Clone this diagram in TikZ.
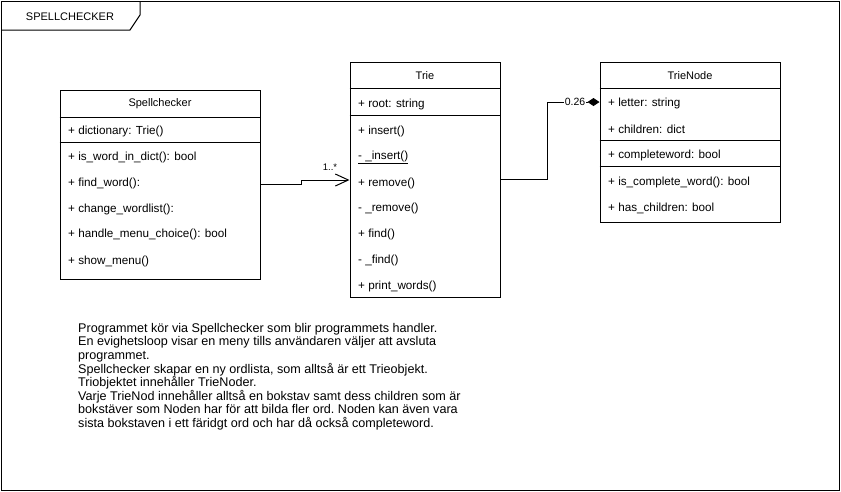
\documentclass[tikz,border=0pt]{standalone}
\usepackage{fontspec}
\setmainfont{Liberation Sans}
\usetikzlibrary{arrows.meta,positioning,calc}

\begin{document}
\begin{tikzpicture}[x=1pt,y=-1pt,
 umlbox/.style={draw,line width=1pt,inner sep=0pt,fill=white},
 head/.style={font=\fontsize{11}{12}\selectfont,inner sep=0pt},
 row/.style={anchor=west,font=\fontsize{11.7}{13}\selectfont,inner sep=0pt},
 sep/.style={line width=1pt},
 assoc/.style={-{Straight Barb[length=13pt,width=12pt,line width=1pt]},line width=1pt},
 comp/.style={{Diamond[length=12pt,width=8pt]}-,line width=1pt},
 mult/.style={font=\fontsize{9.5}{10}\selectfont,inner sep=1pt,fill=white}]
\useasboundingbox (0,0) rectangle (841,491);
% frame
\draw[line width=1pt] (1,1) rectangle (839,490);
\draw[line width=1pt] (1,30) -- (130,30) -- (140,15) -- (140,1);
\node[head,font=\fontsize{11}{12}\selectfont] (frametitle) at (70,17) {SPELLCHECKER};
% Spellchecker
\node[umlbox,minimum width=200pt,minimum height=189pt] (spell) at (160,184.5) {};
\node[head] (sp-title) at (160,104) {Spellchecker};
\draw[sep] (spell.west |- 0,117) -- (spell.east |- 0,117);
\node[row] (sp-dict) at (68,131) {+ dictionary: Trie()};
\draw[sep] (spell.west |- 0,142) -- (spell.east |- 0,142);
\node[row] (sp-inword) at (68,157) {+ is\_word\_in\_dict(): bool};
\node[row] (sp-find) at (68,183) {+ find\_word():};
\node[row] (sp-change) at (68,209) {+ change\_wordlist():};
\node[row] (sp-menu) at (68,234) {+ handle\_menu\_choice(): bool};
\node[row] (sp-show) at (68,261) {+ show\_menu()};
% Trie
\node[umlbox,minimum width=150pt,minimum height=235pt] (trie) at (425,179.5) {};
\node[head] (tr-title) at (425,76) {Trie};
\draw[sep] (trie.west |- 0,88) -- (trie.east |- 0,88);
\node[row] (tr-root) at (358,104) {+ root: string};
\draw[sep] (trie.west |- 0,115) -- (trie.east |- 0,115);
\node[row] (tr-insert) at (358,131) {+ insert()};
\node[row] (tr-insert2) at (358,157) {\underline{- \_insert()}};
\node[row] (tr-remove) at (358,183) {+ remove()};
\node[row] (tr-remove2) at (358,208) {- \_remove()};
\node[row] (tr-find) at (358,234) {+ find()};
\node[row] (tr-find2) at (358,260) {- \_find()};
\node[row] (tr-print) at (358,286) {+ print\_words()};
% TrieNode
\node[umlbox,minimum width=180pt,minimum height=160pt] (tnode) at (690,142) {};
\node[head] (tn-title) at (690,76) {TrieNode};
\draw[sep] (tnode.west |- 0,88) -- (tnode.east |- 0,88);
\node[row] (tn-letter) at (608,103) {+ letter: string};
\node[row] (tn-children) at (608,129) {+ children: dict};
\draw[sep] (tnode.west |- 0,140) -- (tnode.east |- 0,140);
\node[row] (tn-complete) at (608,155) {+ completeword: bool};
\draw[sep] (tnode.west |- 0,166) -- (tnode.east |- 0,166);
\node[row] (tn-iscomplete) at (608,182) {+ is\_complete\_word(): bool};
\node[row] (tn-haschildren) at (608,208) {+ has\_children: bool};
% connectors
\draw[assoc] (spell.east) -- (301,184.5) -- (301,180) -- (trie.west |- 0,180);
\node[mult] (m-spell) at (330,167) {1..*};
\draw[comp] (tnode.west |- 0,102) -- (547,102) -- (547,179) -- (trie.east |- 0,179);
\node[mult,font=\fontsize{10.5}{11}\selectfont] (m-tnode) at (575,102) {0.26};
% note
\node[anchor=north west,align=left,inner sep=0pt,font=\fontsize{12.6}{13.6}\selectfont\frenchspacing] (note) at (78,323) {Programmet kör via Spellchecker som blir programmets handler.\\
En evighetsloop visar en meny tills användaren väljer att avsluta\\
programmet.\\
Spellchecker skapar en ny ordlista, som alltså är ett Trieobjekt.\\
Triobjektet innehåller TrieNoder.\\
Varje TrieNod innehåller alltså en bokstav samt dess children som är\\
bokstäver som Noden har för att bilda fler ord. Noden kan även vara\\
sista bokstaven i ett färidgt ord och har då också completeword.};
\end{tikzpicture}
\end{document}
